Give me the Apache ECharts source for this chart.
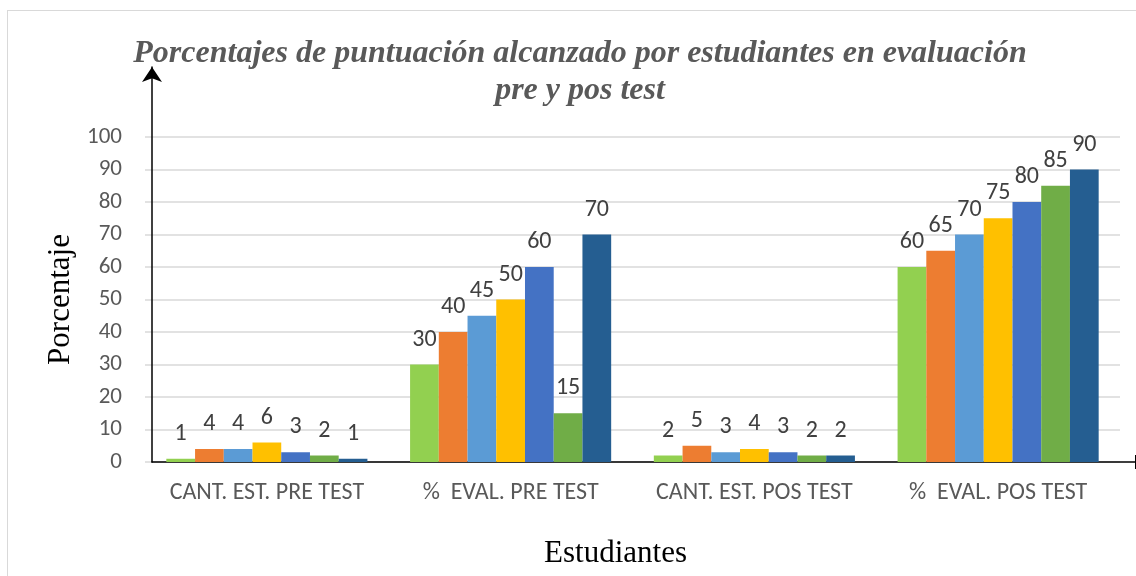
<!DOCTYPE html>
<html>
<head>
<meta charset="utf-8">
<script src="https://cdn.jsdelivr.net/npm/echarts@6/dist/echarts.min.js"></script>
<style>
html,body{margin:0;padding:0;background:#fff;}
#frame{position:absolute;left:7px;top:10px;width:1140px;height:580px;border-left:1px solid #d9d9d9;border-top:1px solid #d9d9d9;box-sizing:border-box;}
#chart{position:absolute;left:0;top:0;width:1136px;height:576px;}
</style>
</head>
<body>
<div id="frame"></div>
<div id="chart"></div>
<script>
const categories = ['CANT. EST. PRE TEST', '%  EVAL. PRE TEST', 'CANT. EST. POS TEST', '%  EVAL. POS TEST'];
const s1 = [1, 30, 2, 60];
const s2 = [4, 40, 5, 65];
const s3 = [4, 45, 3, 70];
const s4 = [6, 50, 4, 75];
const s5 = [3, 60, 3, 80];
const s6 = [2, 15, 2, 85];
const s7 = [1, 70, 2, 90];
const seriesData = [s1, s2, s3, s4, s5, s6, s7];
const colors = ['#92D050', '#ED7D31', '#5B9BD5', '#FFC000', '#4472C4', '#70AD47', '#255E91'];
const yTicks = [0, 10, 20, 30, 40, 50, 60, 70, 80, 90, 100];

const chart = echarts.init(document.getElementById('chart'));
const labelFont = 'Carlito, "Open Sans", "Noto Sans", sans-serif';

const series = seriesData.map((d, i) => ({
  type: 'bar',
  xAxisIndex: 0,
  yAxisIndex: 0,
  data: d,
  itemStyle: { color: colors[i] },
  barGap: '0%',
  barCategoryGap: '17.5%',
  label: {
    show: true,
    position: 'top',
    distance: 13,
    color: '#404040',
    fontSize: 24,
    fontFamily: labelFont
  }
}));

chart.setOption({
  animation: false,
  title: {
    text: 'Porcentajes de puntuación alcanzado por estudiantes en evaluación\npre y pos test',
    left: 575,
    textAlign: 'center',
    top: 30,
    textStyle: {
      fontFamily: '"Liberation Serif", "DejaVu Serif", serif',
      fontStyle: 'italic',
      fontWeight: 'bold',
      fontSize: 32,
      color: '#595959',
      lineHeight: 37
    }
  },
  grid: [
    { left: 145, right: 16, top: 137, bottom: 114 },
    { left: 152, right: 0, top: 67, bottom: 114 }
  ],
  xAxis: [
    {
      gridIndex: 0,
      type: 'category',
      data: categories,
      axisLine: { show: false },
      axisTick: { show: false },
      axisLabel: { color: '#595959', fontSize: 24, fontFamily: labelFont, margin: 19, interval: 0, hideOverlap: false },
      name: 'Estudiantes',
      nameLocation: 'middle',
      nameGap: 76,
      nameTextStyle: { fontFamily: '"Liberation Serif", serif', fontSize: 31, color: '#000', padding: [0, 34, 0, 0] }
    },
    {
      gridIndex: 1,
      type: 'value',
      show: true,
      axisLine: { show: true, lineStyle: { color: '#000', width: 1.5 }, symbol: ['none', 'rect'], symbolSize: [14, 2] },
      axisTick: { show: false },
      axisLabel: { show: false },
      splitLine: { show: false }
    }
  ],
  yAxis: [
    {
      gridIndex: 0,
      type: 'value',
      min: yTicks[0],
      max: yTicks[yTicks.length - 1],
      interval: 10,
      axisLine: { show: false },
      axisTick: { show: false },
      axisLabel: { color: '#595959', fontSize: 23, fontFamily: labelFont, margin: 23 },
      splitLine: { lineStyle: { color: '#d9d9d9', width: 1.5 } },
      name: 'Porcentaje',
      nameLocation: 'middle',
      nameGap: 66,
      nameTextStyle: { fontFamily: '"Liberation Serif", serif', fontSize: 31, color: '#000' }
    },
    {
      gridIndex: 1,
      type: 'value',
      axisLine: { show: true, lineStyle: { color: '#000', width: 1.5 }, symbol: ['none', 'arrow'], symbolSize: [15, 15] },
      axisTick: { show: false },
      axisLabel: { show: false },
      splitLine: { show: false }
    }
  ],
  series: series
});
</script>
</body>
</html>
